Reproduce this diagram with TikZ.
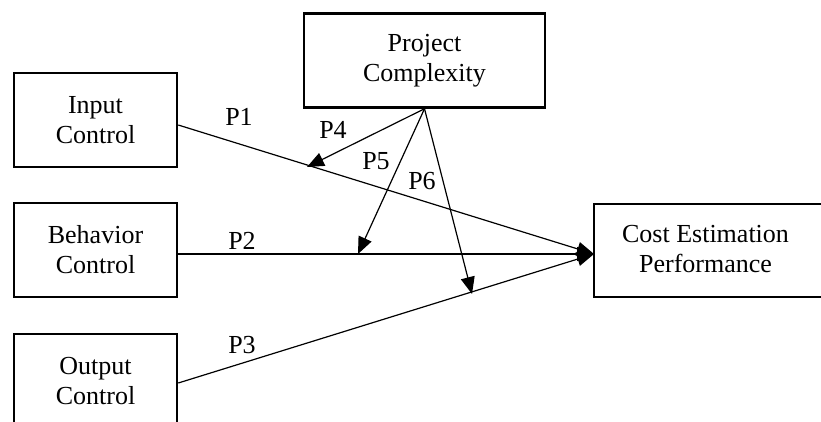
\documentclass[tikz,border=0pt]{standalone}
\usepackage{fontspec}
\setmainfont{Liberation Serif}
\usetikzlibrary{arrows.meta}
\begin{document}
\begin{tikzpicture}[x=1pt,y=-1pt,
  box/.style={draw,line width=2.5pt,minimum width=163pt,minimum height=94pt,inner sep=0pt,
    align=center,font=\fontsize{26}{30}\selectfont},
  lbl/.style={font=\fontsize{26}{30}\selectfont,inner sep=0pt},
  conn/.style={line width=1.2pt},
  arr/.style={conn,-{Triangle[length=17pt,width=14pt]}}]
\useasboundingbox (0,0) rectangle (821,421);
\clip (0,0) rectangle (821,421);
\node[box] (in) at (95.5,120) {Input\\Control};
\node[box] (bc) at (95.5,250) {Behavior\\Control};
\node[box] (oc) at (95.5,381) {Output\\Control};
\node[box,minimum width=241pt] (pc) at (424.5,60.5) {Project\\Complexity};
\node[box,minimum width=240pt,minimum height=93pt] (ce) at (714,250.5) {};
\node[lbl,align=center] (cet) at (705.5,249) {Cost Estimation\\Performance};
\coordinate (t) at (594,254);
\coordinate (p4t) at (307,167);
\coordinate (p5t) at (358,254);
\coordinate (p6t) at (472,294);
\draw[arr] ([yshift=-5pt]in.east) -- (t);
\draw[arr] ([yshift=-4pt]bc.east) -- (t);
\draw[arr] ([yshift=-2pt]oc.east) -- (t);
\draw[arr] (pc.south) -- (p4t);
\draw[arr] (pc.south) -- (p5t);
\draw[arr] (pc.south) -- (p6t);
\node[lbl] (l1) at (239,117) {P1};
\node[lbl] (l2) at (242,241) {P2};
\node[lbl] (l3) at (242,345) {P3};
\node[lbl] (l4) at (333,129.5) {P4};
\node[lbl] (l5) at (376,161.5) {P5};
\node[lbl] (l6) at (422,181.5) {P6};
\end{tikzpicture}
\end{document}
